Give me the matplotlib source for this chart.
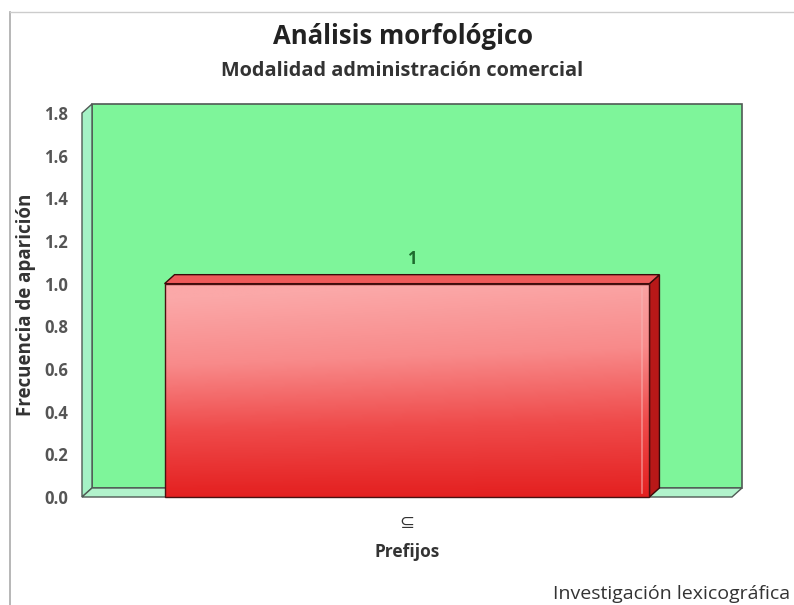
import numpy as np
import matplotlib
matplotlib.use("Agg")
import matplotlib.pyplot as plt
from matplotlib.patches import Rectangle, Polygon
from matplotlib.colors import LinearSegmentedColormap
from matplotlib.lines import Line2D

categories = ["⊆"]
values = [1]
yticks = [0.0, 0.2, 0.4, 0.6, 0.8, 1.0, 1.2, 1.4, 1.6, 1.8]
title = "Análisis morfológico"
subtitle = "Modalidad administración comercial"
xlabel = "Prefijos"
ylabel = "Frecuencia de aparición"
credit = "Investigación lexicográfica"

W, H = 794, 605
fig = plt.figure(figsize=(W / 100, H / 100), dpi=100)
plt.rcParams['font.family'] = ['Open Sans', 'DejaVu Sans']

L, R, T, B = 82, 732, 113, 497
ax = fig.add_axes([L / W, 1 - B / H, (R - L) / W, (B - T) / H])
ymax = 1.8
ax.set_xlim(-0.5, 0.5)
ax.set_ylim(0, ymax)
for s in ax.spines.values():
    s.set_visible(False)
ax.set_facecolor("none")

# depth offset in data units
DX_PX, DY_PX = 10, 9
dx = DX_PX / (R - L) * 1.0
dy = DY_PX / (B - T) * ymax

edge = "#505a55"
wall = "#7ef59a"
x0, x1 = -0.5, 0.5
# back wall
ax.add_patch(Rectangle((x0 + dx, dy), x1 - x0, ymax, facecolor=wall, edgecolor=edge,
                       lw=1.2, zorder=1, clip_on=False))
# left side wall
ax.add_patch(Polygon([(x0, 0), (x0, ymax), (x0 + dx, ymax + dy), (x0 + dx, dy)],
                     closed=True, facecolor="#a5f2c6", edgecolor=edge, lw=1.0,
                     zorder=1.5, clip_on=False))
# floor
ax.add_patch(Polygon([(x0, 0), (x1, 0), (x1 + dx, dy), (x0 + dx, dy)],
                     closed=True, facecolor="#b2f3cc", edgecolor=edge, lw=1.0,
                     zorder=1.5, clip_on=False))

# bar
bw = 0.746
cmap = LinearSegmentedColormap.from_list("redgrad", ["#e42020", "#ef4a4a", "#f88a8a", "#fba8a8"])
for i, v in enumerate(values):
    xc = i
    bl, br = xc - bw / 2, xc + bw / 2
    # side face
    ax.add_patch(Polygon([(br, 0), (br + dx, dy), (br + dx, v + dy), (br, v)], closed=True,
                         facecolor="#b81818", edgecolor="#3a0a0a", lw=1.0, zorder=3,
                         clip_on=False))
    # top face
    ax.add_patch(Polygon([(bl, v), (br, v), (br + dx, v + dy), (bl + dx, v + dy)], closed=True,
                         facecolor="#ee5a5a", edgecolor="#3a0a0a", lw=1.0, zorder=3,
                         clip_on=False))
    # front face gradient
    grad = np.linspace(0, 1, 256).reshape(-1, 1)
    horiz = np.linspace(0.08, -0.05, 64).reshape(1, -1)
    img = np.clip(grad + horiz * grad, 0, 1)
    im = ax.imshow(img, cmap=cmap, origin="lower", extent=[bl, br, 0, v], aspect="auto",
                   zorder=4, vmin=0, vmax=1, interpolation="bilinear")
    front = Rectangle((bl, 0), bw, v, facecolor="none", edgecolor="#4a1010", lw=1.0,
                      zorder=5, clip_on=False)
    ax.add_patch(front)
    im.set_clip_path(front)
    # highlight strip near right edge
    ax.plot([br - 0.012, br - 0.012], [0.02, v - 0.02], color="#f7b5b5", lw=1.2, alpha=0.6,
            zorder=5)
    ax.text(xc + dx / 2, v + dy + 0.03, str(v), ha="center", va="bottom", fontsize=12,
            fontweight="bold", color="#1e6b2e", zorder=6)

ax.set_xticks(range(len(categories)))
ax.set_xticklabels(categories, fontsize=13, color="#333333", family=['DejaVu Sans'])
ax.set_yticks(yticks)
ax.set_yticklabels([f"{t:.1f}" for t in yticks], fontsize=12, fontweight="bold",
                   color="#555555")
ax.tick_params(axis="both", length=0)
ax.tick_params(axis="y", pad=10)
ax.tick_params(axis="x", pad=12)
ax.set_xlabel(xlabel, fontsize=12.5, fontweight="bold", color="#333333", labelpad=8)
ax.set_ylabel(ylabel, fontsize=13.5, fontweight="bold", color="#333333", labelpad=6)

fig.text(403 / W, 1 - 36 / H, title, ha="center", va="center", fontsize=18.5,
         fontweight="bold", color="#222222")
fig.text(402 / W, 1 - 71 / H, subtitle, ha="center", va="center", fontsize=14.3,
         fontweight="bold", color="#333333")
fig.text(790 / W, 1 - 594 / H, credit, ha="right", va="center", fontsize=14,
         color="#333333")

# outer frame lines
fig.add_artist(Line2D([10 / W, 10 / W], [0, 1 - 12 / H], transform=fig.transFigure,
                      color="#aaaaaa", lw=1.2))
fig.add_artist(Line2D([10 / W, 1], [1 - 12 / H, 1 - 12 / H], transform=fig.transFigure,
                      color="#cccccc", lw=1.0))

fig.savefig("out.png", dpi=100, facecolor="white")
